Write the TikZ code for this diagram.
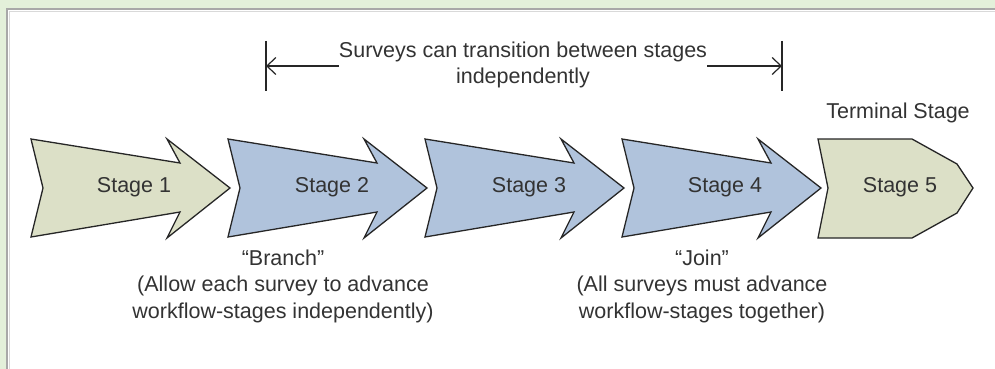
\documentclass[tikz,border=0pt]{standalone}
\usepackage{fontspec}
\setmainfont{Liberation Sans}
\usetikzlibrary{arrows.meta}
\definecolor{bggreen}{HTML}{E3F0DA}
\definecolor{framegray}{HTML}{A8A8A8}
\definecolor{stagegreen}{HTML}{DCE0C7}
\definecolor{stageblue}{HTML}{B0C3DC}
\definecolor{txtgray}{HTML}{333333}
\tikzset{
  lbl/.style={inner sep=0pt, text=txtgray, align=center, font=\fontsize{21.5}{26.5}\selectfont},
  stageshape/.style={draw=black!85, line width=1.3pt, line join=miter},
  dimline/.style={draw=black!85, line width=1.2pt},
  dimtip/.style={-{Straight Barb[length=9pt,width=17pt,line width=1.2pt]}}
}
\begin{document}
\begin{tikzpicture}[x=1pt,y=-1pt]
\useasboundingbox (0,0) rectangle (995,369);
% background and frame
\fill[bggreen] (0,0) rectangle (995,369);
\fill[white] (7,9) rectangle (995,369);
\draw[framegray, line width=2pt] (7,369) -- (7,9) -- (995,9);
\draw[black!15, line width=1pt] (9.5,369) -- (9.5,11.5) -- (995,11.5);
% stage arrows
\foreach \x/\c in {31/stagegreen,228/stageblue,425/stageblue,622/stageblue}{
  \draw[stageshape, fill=\c] (\x,139) -- ++(149,24) -- ++(-13,-24) -- ++(63,49)
     -- ++(-63,50) -- ++(13,-26) -- ++(-149,25) -- ++(12,-49) -- cycle;
}
\draw[stageshape, fill=stagegreen] (818,139) -- (912,139) -- (957,164) -- (973,188)
   -- (957,213) -- (912,238) -- (818,238) -- (828,188) -- cycle;
% stage labels
\node[lbl] (s1) at (134,187) {Stage 1};
\node[lbl] (s2) at (332,187) {Stage 2};
\node[lbl] (s3) at (529,187) {Stage 3};
\node[lbl] (s4) at (725,187) {Stage 4};
\node[lbl] (s5) at (900,187) {Stage 5};
\node[lbl] (term) at (898,113) {Terminal Stage};
% notes
\node[lbl] (branch) at (283,286) {“Branch”\\(Allow each survey to advance\\workflow-stages independently)};
\node[lbl] (join) at (702,286) {“Join”\\(All surveys must advance\\workflow-stages together)};
% dimension marker
\node[lbl] (span) at (523,65) {Surveys can transition between stages\\independently};
\coordinate (Lt) at (266,41); \coordinate (Lb) at (266,91);
\coordinate (Rt) at (782,41); \coordinate (Rb) at (782,91);
\coordinate (Lm) at (266,66); \coordinate (Rm) at (782,66);
\draw[dimline] (Lt) -- (Lb);
\draw[dimline] (Rt) -- (Rb);
\draw[dimline, dimtip] (span.west |- Lm) -- (Lm);
\draw[dimline, dimtip] (span.east |- Rm) -- (Rm);
\end{tikzpicture}
\end{document}
